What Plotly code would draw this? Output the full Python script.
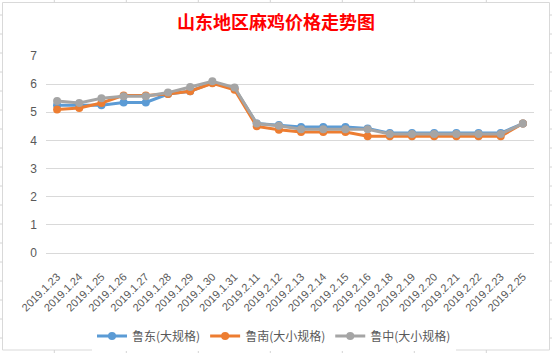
import plotly.graph_objects as go

dates = ["2019.1.23", "2019.1.24", "2019.1.25", "2019.1.26", "2019.1.27", "2019.1.28",
         "2019.1.29", "2019.1.30", "2019.1.31", "2019.2.11", "2019.2.12", "2019.2.13",
         "2019.2.14", "2019.2.15", "2019.2.16", "2019.2.18", "2019.2.19", "2019.2.20",
         "2019.2.21", "2019.2.22", "2019.2.23", "2019.2.25"]
ludong = [5.25, 5.25, 5.25, 5.35, 5.35, 5.65, 5.75, 6.05, 5.85, 4.6, 4.55, 4.48,
          4.48, 4.48, 4.42, 4.26, 4.26, 4.26, 4.26, 4.26, 4.26, 4.6]
lunan = [5.1, 5.15, 5.33, 5.6, 5.6, 5.65, 5.75, 6.03, 5.8, 4.5, 4.38, 4.3,
         4.3, 4.3, 4.15, 4.15, 4.15, 4.15, 4.15, 4.15, 4.15, 4.6]
luzhong = [5.4, 5.33, 5.5, 5.57, 5.57, 5.7, 5.9, 6.1, 5.88, 4.6, 4.52, 4.4,
           4.4, 4.4, 4.4, 4.23, 4.23, 4.23, 4.23, 4.23, 4.23, 4.6]
series_names = ["鲁东(大规格)", "鲁南(大小规格)", "鲁中(大小规格)"]
series_colors = ["#5B9BD5", "#ED7D31", "#A5A5A5"]
y_ticks = [0, 1, 2, 3, 4, 5, 6, 7]

W, H = 552, 353
L, R, T, B = 46, 18, 56, 100
PW, PH = W - L - R, H - T - B


def px(x):
    return (x - L) / PW


def py(y):
    return (H - B - y) / PH


fig = go.Figure()
for name, vals, col in zip(series_names, [ludong, lunan, luzhong], series_colors):
    fig.add_trace(go.Scatter(
        x=dates, y=vals, name=name, mode="lines+markers",
        line=dict(color=col, width=3),
        marker=dict(color=col, size=8),
    ))

grid_col = "#D4D4D4"
shapes = []
# chart border
shapes.append(dict(type="rect", xref="paper", yref="paper",
                   x0=px(2.5), x1=px(549.5), y0=py(350), y1=py(2.5),
                   line=dict(color="#D9D9D9", width=1), layer="below"))
# spreadsheet column lines outside chart
for cx in [54.3, 126.3, 198.3, 270.3, 342.3, 414.3, 486.3]:
    shapes.append(dict(type="line", xref="paper", yref="paper",
                       x0=px(cx), x1=px(cx), y0=py(0), y1=py(2.5),
                       line=dict(color=grid_col, width=1)))
    shapes.append(dict(type="line", xref="paper", yref="paper",
                       x0=px(cx), x1=px(cx), y0=py(350), y1=py(353),
                       line=dict(color=grid_col, width=1)))
# spreadsheet row lines outside chart
ry = 15
while ry < 353:
    shapes.append(dict(type="line", xref="paper", yref="paper",
                       x0=px(0), x1=px(2.5), y0=py(ry), y1=py(ry),
                       line=dict(color=grid_col, width=1)))
    shapes.append(dict(type="line", xref="paper", yref="paper",
                       x0=px(549.5), x1=px(552), y0=py(ry), y1=py(ry),
                       line=dict(color=grid_col, width=1)))
    ry += 19

fig.update_layout(
    width=W, height=H,
    margin=dict(l=L, r=R, t=T, b=B, autoexpand=False),
    paper_bgcolor="white", plot_bgcolor="white",
    title=dict(text="山东地区麻鸡价格走势图", x=px(276), xref="paper", xanchor="center",
               y=1 - 23 / H, yanchor="middle",
               font=dict(family="Noto Sans CJK SC", size=18, color="#FF0000", weight="bold")),
    showlegend=True,
    legend=dict(orientation="h", x=px(274), xref="paper", xanchor="center",
                y=py(336), yanchor="middle",
                font=dict(family="Noto Sans CJK SC", size=12, color="#595959"),
                itemwidth=30, tracegroupgap=0),
    xaxis=dict(type="category", range=[-0.5, len(dates) - 0.5], automargin=False,
               showgrid=False, showline=True, linecolor="#D9D9D9", linewidth=1,
               tickangle=-45, ticks="", ticklabelstandoff=12,
               tickfont=dict(family="Liberation Sans", size=11, color="#595959")),
    yaxis=dict(range=[0, 7], tickvals=y_ticks, showgrid=True, gridcolor="#D9D9D9",
               gridwidth=1, zeroline=False, showline=False, ticks="", automargin=False,
               ticklabelstandoff=8,
               tickfont=dict(family="Liberation Sans", size=12, color="#595959")),
    shapes=shapes,
    font=dict(family="Liberation Sans"),
)

fig.write_html("out.html")
